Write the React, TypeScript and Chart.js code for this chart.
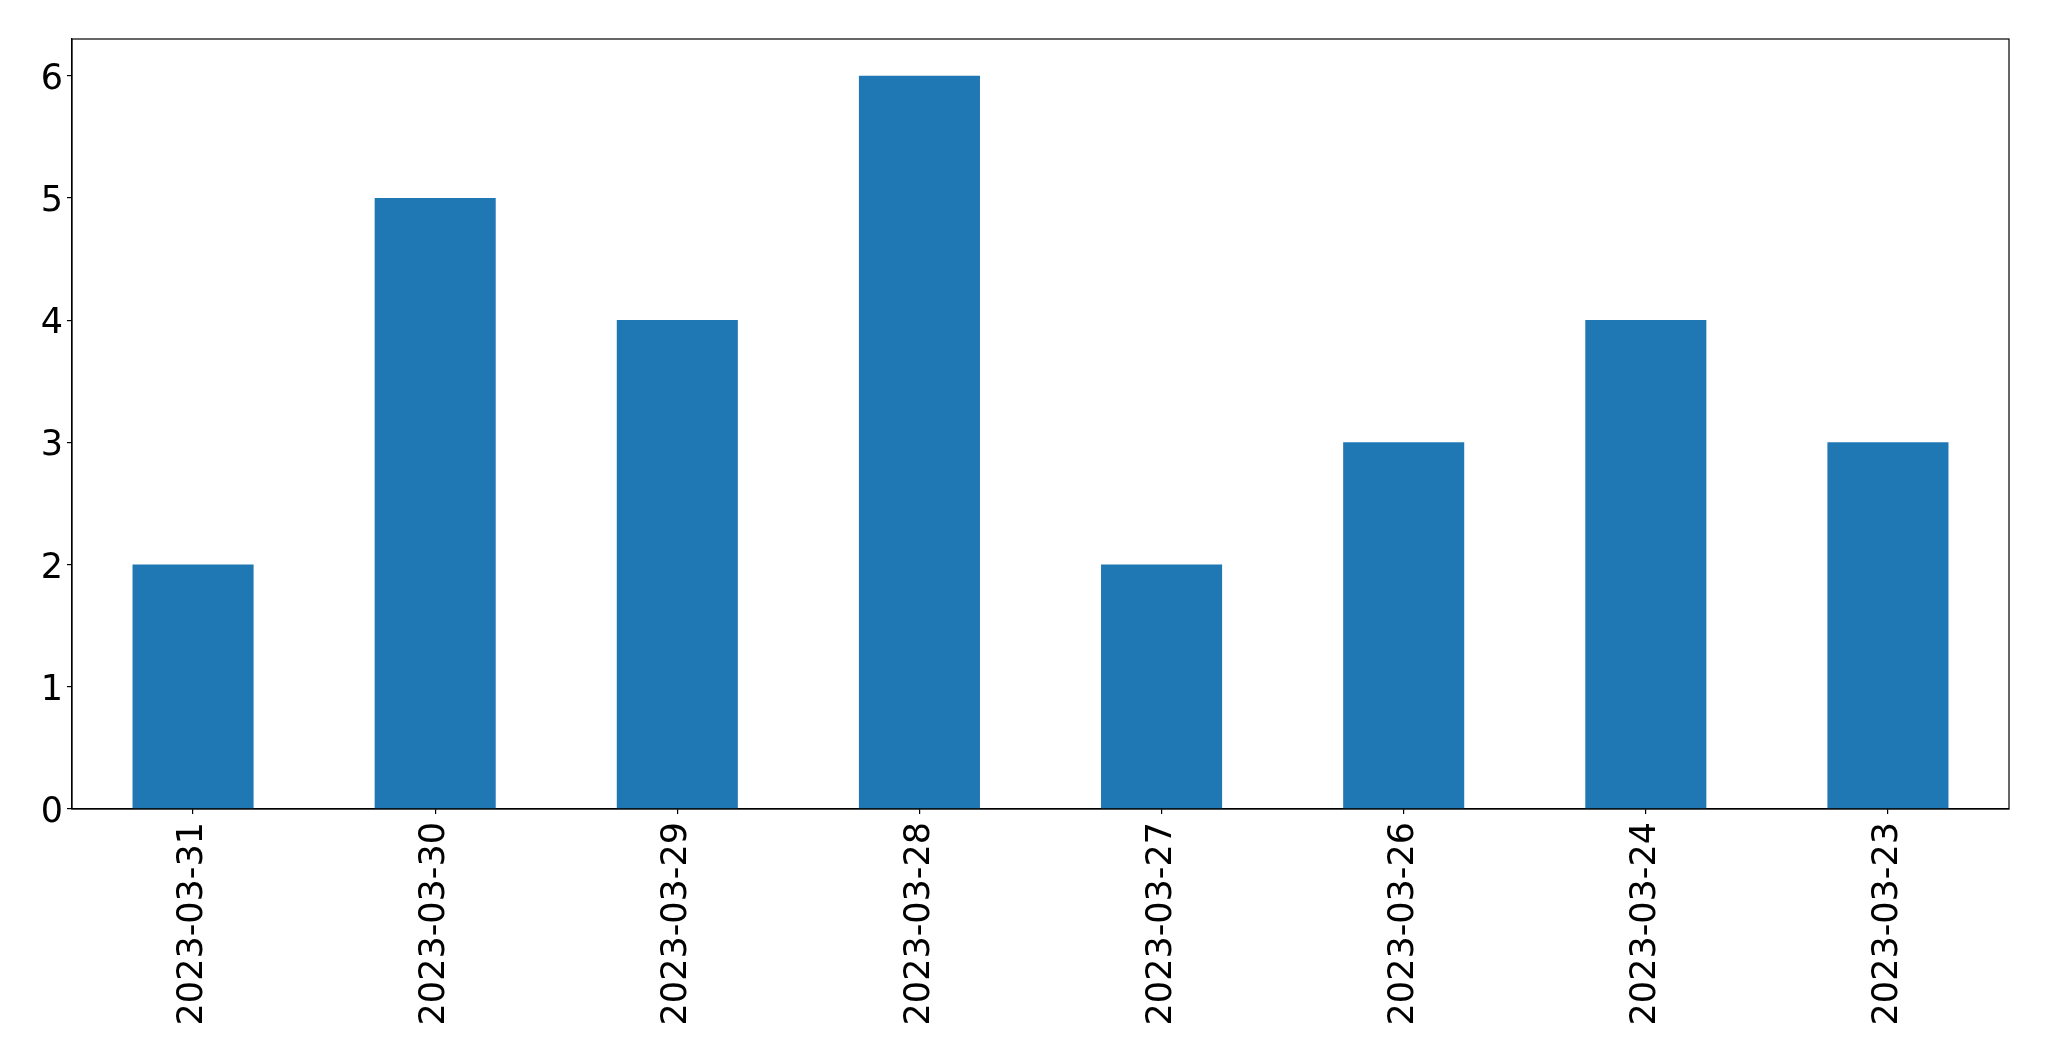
import React, { useEffect, useRef } from "react";
import { Chart, registerables } from "chart.js";

Chart.register(...registerables);

const categories = [
  "2023-03-31",
  "2023-03-30",
  "2023-03-29",
  "2023-03-28",
  "2023-03-27",
  "2023-03-26",
  "2023-03-24",
  "2023-03-23",
];
const counts = [2, 5, 4, 6, 2, 3, 4, 3];
const yTicks = [0, 1, 2, 3, 4, 5, 6];
const yMax = 6.3;

const frame = {
  id: "frame",
  afterDraw(chart: any) {
    const { ctx, chartArea } = chart;
    ctx.save();
    ctx.strokeStyle = "#000";
    ctx.lineWidth = 1.2;
    ctx.strokeRect(chartArea.left, chartArea.top, chartArea.right - chartArea.left, chartArea.bottom - chartArea.top);
    ctx.restore();
  },
};

export default function App() {
  const ref = useRef<HTMLCanvasElement>(null);
  useEffect(() => {
    document.body.style.margin = "0";
    const font = { family: "DejaVu Sans", size: 35 };
    const chart = new Chart(ref.current!, {
      type: "bar",
      data: {
        labels: categories,
        datasets: [
          {
            data: counts,
            backgroundColor: "#1f77b4",
            barPercentage: 0.5,
            categoryPercentage: 1,
          },
        ],
      },
      options: {
        animation: false,
        responsive: false,
        layout: { padding: { top: 39, right: 40, left: 0, bottom: 0 } },
        plugins: { legend: { display: false }, tooltip: { enabled: false } },
        scales: {
          x: {
            grid: { offset: false, drawOnChartArea: false, tickLength: 5, color: "#000", lineWidth: 1.2 },
            border: { display: true, color: "#000", width: 1.2 },
            ticks: { font, color: "#000", minRotation: 90, maxRotation: 90, padding: 8, autoSkip: false },
            afterFit: (s: any) => {
              s.height = 252;
            },
          },
          y: {
            min: 0,
            max: yMax,
            grid: { drawOnChartArea: false, tickLength: 5, color: "#000", lineWidth: 1.2 },
            border: { display: true, color: "#000", width: 1.2 },
            ticks: { font, color: "#000", padding: 4, labelOffset: 4 },
            afterBuildTicks: (s: any) => {
              s.ticks = yTicks.map((v) => ({ value: v }));
            },
            afterFit: (s: any) => {
              s.width = 72;
            },
          },
        },
      },
      plugins: [frame],
    });
    return () => chart.destroy();
  }, []);
  return <canvas ref={ref} width={2049} height={1061} style={{ display: "block" }} />;
}
